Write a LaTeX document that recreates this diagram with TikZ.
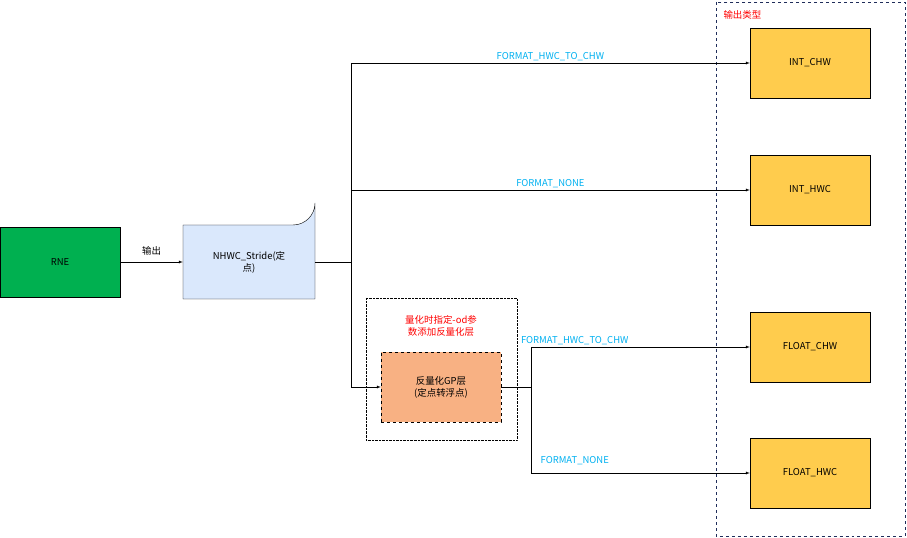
\documentclass[tikz,border=0pt]{standalone}
\usepackage{fontspec}
\setmainfont{Noto Sans CJK SC}
\usetikzlibrary{positioning}
\usetikzlibrary{shapes.misc}
\definecolor{rneColor}{HTML}{00B050}
\definecolor{strideColor}{HTML}{DAE8FC}
\definecolor{outColor}{HTML}{FFCC4D}
\definecolor{dequantColor}{HTML}{F8B183}
\definecolor{formatColor}{HTML}{00B0F0}
\definecolor{frameColor}{HTML}{1F2D5A}
\def\textA{FORMAT\_HWC\_TO\_CHW}
\def\textB{FORMAT\_NONE}
\begin{document}
\begin{tikzpicture}[x=1bp,y=-1bp,font=\fontsize{9.5}{12}\selectfont,
  box/.style={draw, minimum width=120bp, minimum height=70bp, inner sep=0pt},
  outbox/.style={box, fill=outColor},
  fmt/.style={text=formatColor, anchor=south, inner sep=1.5bp},
  link/.style={-latex}]

\useasboundingbox (0, 0) rectangle (907, 538);

% frames
\begin{scope}
\draw[frameColor, dashed] (716, 2) rectangle (905, 536);
\node[text=red, anchor=west] (outtitle) at (720, 15) {输出类型};
\draw[densely dotted] (366, 298) rectangle (517, 440);
\node[text=red, align=center] (odnote) at (441, 326) {量化时指定-od参\\数添加反量化层};
\end{scope}

% node layer
\begin{scope}
\node[box, fill=rneColor] (rne) at (60, 262) {RNE};
\node[box, minimum width=132bp, minimum height=74bp, draw=none] (stride) at (249, 262) {};
\draw[fill=strideColor] (183, 225) -- (293, 225) arc[start angle=90, end angle=0, radius=22]
  -- (315, 299) -- (183, 299) -- cycle;
\node[align=center] at (stride) {NHWC\_Stride(定\\点)};
\node[box, fill=dequantColor, dashed, align=center] (dequant) at (441, 387)
  {反量化GP层\\(定点转浮点)};
\node[outbox] (intchw) at (810, 63) {INT\_CHW};
\node[outbox] (inthwc) at (810, 190) {INT\_HWC};
\node[outbox] (floatchw) at (810, 347) {FLOAT\_CHW};
\node[outbox] (floathwc) at (810, 473) {FLOAT\_HWC};
\coordinate (splitA) at (351, 262);
\coordinate (splitB) at (531, 387);
\end{scope}

% link layer
\begin{scope}
\draw[link] (rne) -- node[above=3bp] {输出} (stride);
\draw (stride.east) -- (splitA);
\draw[link] (splitA) |- node[pos=0.75, fmt] {\textA} (intchw);
\draw[link] (splitA) |- node[pos=0.75, fmt] {\textB} (inthwc);
\draw[link] (splitA) |- (dequant);
\draw (dequant) -- (splitB);
\draw[link] (splitB) |- node[pos=0.6, fmt] {\textA} (floatchw);
\draw[link] (splitB) |- node[pos=0.6, fmt, yshift=6bp] {\textB} (floathwc);
\end{scope}
\end{tikzpicture}
\end{document}
